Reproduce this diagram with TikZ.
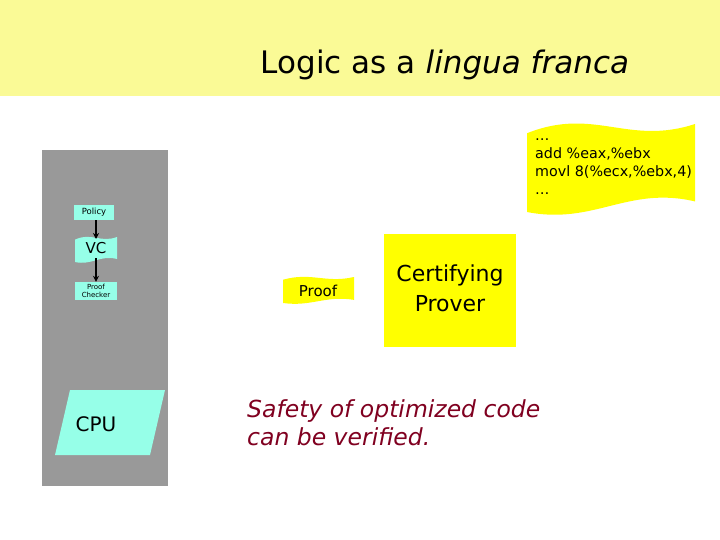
\documentclass[tikz,border=0pt]{standalone}
\usepackage{fontspec}
\setmainfont{DejaVu Sans}
\usetikzlibrary{shapes.geometric,arrows.meta}
\definecolor{band}{RGB}{250,250,150}
\definecolor{cy}{RGB}{150,255,232}
\definecolor{yl}{RGB}{255,255,0}
\definecolor{pan}{RGB}{153,153,153}
\definecolor{dred}{RGB}{128,0,32}
\newcommand\wavebox[5]{%
 \fill[#5] (#1,{#2+0.35*(#4-#2)*0.3}) .. controls ({#1+0.4*(#3-#1)},{#2-0.2*(#4-#2)}) and ({#1+0.6*(#3-#1)},{#2+0.25*(#4-#2)}) .. (#3,#2)
 -- (#3,{#4-0.12*(#4-#2)}) .. controls ({#1+0.6*(#3-#1)},{#4-0.3*(#4-#2)}) and ({#1+0.4*(#3-#1)},{#4+0.15*(#4-#2)}) .. (#1,#4) -- cycle;}
\begin{document}
\begin{tikzpicture}[x=1pt,y=-1pt,
 cybox/.style={fill=cy,inner sep=0pt,align=center},
 arr/.style={-{Stealth[length=6pt,width=6pt]},line width=1.8pt}]
\useasboundingbox (0,0) rectangle (720,540);
\fill[white] (0,0) rectangle (720,540);
\fill[band] (0,0) rectangle (720,96);
\node[font=\fontsize{31}{36}\selectfont] (title) at (445,65) {Logic as a \textit{lingua franca}};
\fill[pan] (42,150) rectangle (168,486);
\node[cybox,minimum width=40pt,minimum height=15pt,font=\fontsize{8.5}{9}\selectfont] (pol) at (94,212.5) {Policy};
\wavebox{75}{237}{117}{262}{cy}
\node[font=\fontsize{15}{17}\selectfont] (vc) at (96,248) {VC};
\node[cybox,minimum width=42pt,minimum height=18pt,font=\fontsize{7}{8}\selectfont] (pc) at (96,291) {Proof\\Checker};
\draw[arr] (pol.south -| 96,0) -- (96,239);
\draw[arr] (96,258) -- (pc.north);
\fill[cy] (70,390) -- (165,390) -- (150,455) -- (55,455) -- cycle;
\node[font=\fontsize{20}{24}\selectfont] (cpu) at (96,424) {CPU};
\wavebox{283}{277}{354}{303}{yl}
\node[font=\fontsize{15}{18}\selectfont] (proof) at (318,291) {Proof};
\fill[yl] (384,234) rectangle (516,347);
\node[align=center,font=\fontsize{22}{30}\selectfont] (prover) at (450,288) {Certifying\\Prover};
\wavebox{527}{124}{695}{212}{yl}
\node[align=left,anchor=north west,inner sep=0pt,font=\fontsize{14.3}{18}\selectfont] (code) at (535,139) {\dots\\ add \%eax,\%ebx\\ movl 8(\%ecx,\%ebx,4)\\ \dots};
\node[align=left,anchor=west,text=dred,inner sep=0pt,font=\fontsize{23.5}{28}\selectfont\itshape] (safe) at (247,423) {Safety of optimized code\\ can be verified.};
\end{tikzpicture}
\end{document}
